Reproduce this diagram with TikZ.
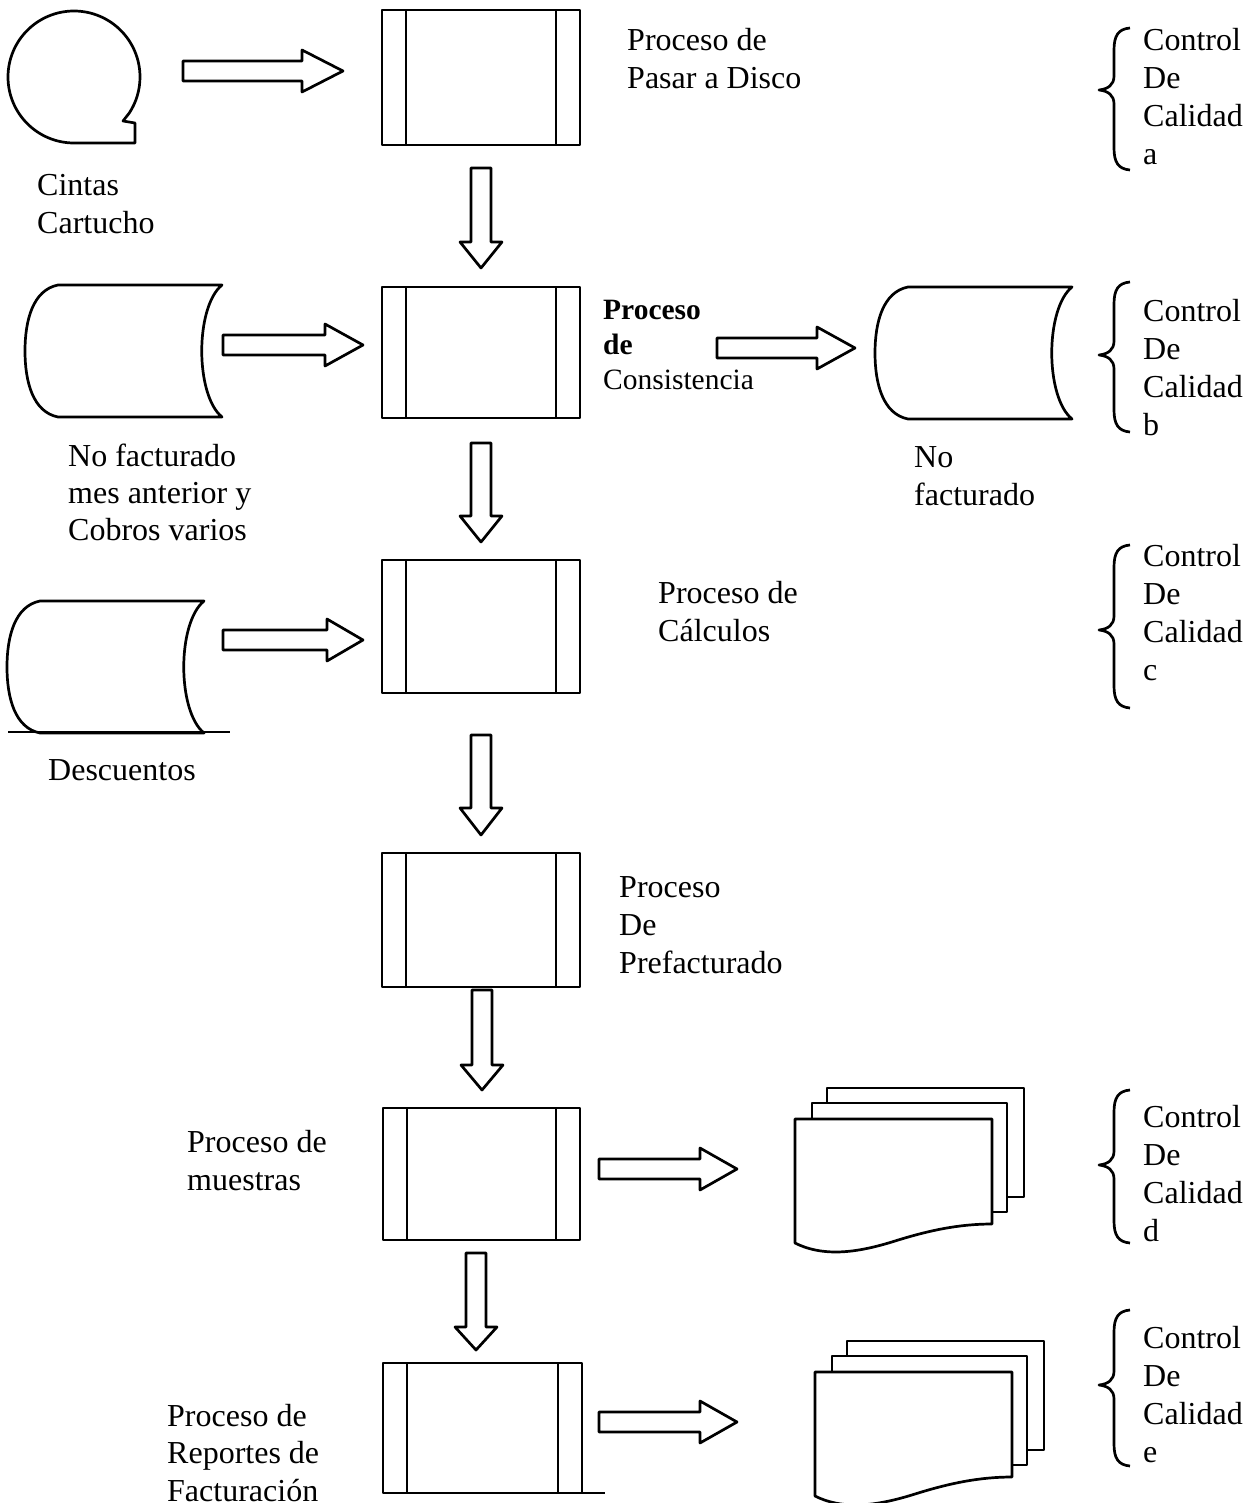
\documentclass[tikz,border=0pt]{standalone}
\usepackage{fontspec}
\setmainfont{Liberation Serif}

% block arrow pointing right: shaft start, head start, tip, centre line
\newcommand\rblock[4]{%
  \draw[blk] (#1,#4-10) -- (#2,#4-10) -- (#2,#4-21) -- (#3,#4) -- (#2,#4+21)
    -- (#2,#4+10) -- (#1,#4+10) -- cycle;}
% block arrow pointing down: centre line, shaft start, head start, tip
\newcommand\dblock[4]{%
  \draw[blk] (#1-10,#2) -- (#1+10,#2) -- (#1+10,#3) -- (#1+21,#3) -- (#1,#4)
    -- (#1-21,#3) -- (#1-10,#3) -- cycle;}
% the two inner bars of a predefined-process box
\newcommand\sidebars[1]{%
  \draw[blk] ([xshift=24pt]#1.north west) -- ([xshift=24pt]#1.south west);
  \draw[blk] ([xshift=-24pt]#1.north east) -- ([xshift=-24pt]#1.south east);}
% left curly brace: top, middle, bottom
\newcommand\cbrace[3]{%
  \draw[blk] (1130,#1) .. controls (1118,#1+1) and (1114,#1+8) .. (1114,#1+22)
    -- (1114,#2-14) .. controls (1114,#2-5) and (1108,#2-1) .. (1099,#2)
    .. controls (1108,#2+1) and (1114,#2+5) .. (1114,#2+14)
    -- (1114,#3-22) .. controls (1114,#3-8) and (1118,#3-1) .. (1130,#3);}

\begin{document}
\begin{tikzpicture}[x=1pt,y=-1pt,line join=round,
  blk/.style={line width=2.7pt,draw=black},
  outl/.style={line width=2.7pt,draw=black,fill=white},
  proc/.style={draw,line width=2.7pt,minimum width=198pt,minimum height=133pt,
    inner sep=0pt,outer sep=0pt,anchor=north west},
  % labels are placed by the baseline of their last line
  lbl/.style={anchor=base west,align=left,inner sep=0pt,
    font=\fontsize{32}{38}\selectfont},
  storage/.pic={
    \draw[outl] (33,0) -- (197,0) .. controls (170,22) and (170,110) .. (197,132)
      -- (33,132) .. controls (8,127) and (0,97) .. (0,66)
      .. controls (0,35) and (8,5) .. (33,0) -- cycle;},
  docstack/.pic={
    \draw[outl] (32,-31) rectangle (229,78);
    \draw[outl] (17,-16) rectangle (212,93);
    \draw[outl] (0,0) -- (197,0) -- (197,105)
      .. controls (165,105) and (135,111) .. (100,122)
      .. controls (65,133) and (30,139) .. (0,124) -- cycle;}
]
\useasboundingbox (0,0) rectangle (1257,1503);
\fill[white] (0,0) rectangle (1257,1503);

% process boxes
\node[proc,minimum height=135pt] (p1) at (382,10) {};
\node[proc,minimum height=131pt] (p2) at (382,287) {};
\node[proc] (p3) at (382,560) {};
\node[proc,minimum height=134pt] (p4) at (382,853) {};
\node[proc,minimum width=197pt,minimum height=132pt] (p5) at (383,1108) {};
\node[proc,minimum width=199pt,minimum height=130pt] (p6) at (383,1363) {};
\foreach \p in {p1,p2,p3,p4,p5,p6} {\sidebars{\p}}
\draw[blk] (p6.south west) -- ([xshift=222pt]p6.south west);

% magnetic tape
\draw[outl] (74,143) arc[start angle=90,end angle=393,radius=66]
  -- (123,121) -- (135,123) -- (135,143) -- cycle;

% stored data
\pic at (25,285) {storage};
\pic at (875,287) {storage};
\pic at (7,601) {storage};
\draw[blk] (8,732) -- (230,732);

% printed reports
\pic at (795,1119) {docstack};
\pic at (815,1372) {docstack};

% flow arrows
\rblock{183}{302}{343}{71}
\rblock{223}{325}{363}{345}
\rblock{717}{817}{855}{348}
\rblock{223}{327}{363}{640}
\rblock{599}{700}{737}{1169}
\rblock{599}{700}{737}{1422}
\dblock{481}{168}{242}{268}
\dblock{481}{443}{516}{542}
\dblock{481}{735}{808}{835}
\dblock{482}{990}{1065}{1090}
\dblock{476}{1253}{1327}{1350}

% quality-control braces
\cbrace{28}{90}{170}
\cbrace{282}{355}{432}
\cbrace{545}{630}{708}
\cbrace{1090}{1165}{1243}
\cbrace{1310}{1385}{1466}

% labels
\node[lbl] (ta) at (1143,165) {Control\\De\\Calidad\\a};
\node[lbl] (tb) at (1143,435) {Control\\De\\Calidad\\b};
\node[lbl] (tc) at (1143,680) {Control\\De\\Calidad\\c};
\node[lbl] (td) at (1143,1241) {Control\\De\\Calidad\\d};
\node[lbl] (te) at (1143,1462) {Control\\De\\Calidad\\e};

\node[lbl] (l1) at (627,89) {Proceso de\\Pasar a Disco};
\node[lbl] (l2) at (37,234) {Cintas\\Cartucho};
\node[lbl,font=\fontsize{29.5}{35}\selectfont] (l3) at (603,389)
  {\textbf{Proceso}\\\textbf{de}\\Consistencia};
\node[lbl,font=\fontsize{32}{37}\selectfont] (l4) at (68,540)
  {No facturado\\mes anterior y\\Cobros varios};
\node[lbl] (l5) at (914,505) {No\\facturado};
\node[lbl] (l6) at (658,641) {Proceso de\\Cálculos};
\node[lbl] (l7) at (48,780) {Descuentos};
\node[lbl] (l8) at (619,973) {Proceso\\De\\Prefacturado};
\node[lbl] (l9) at (187,1190) {Proceso de\\muestras};
\node[lbl,font=\fontsize{32}{37.5}\selectfont] (l10) at (167,1501)
  {Proceso de\\Reportes de\\Facturación};
\end{tikzpicture}
\end{document}
